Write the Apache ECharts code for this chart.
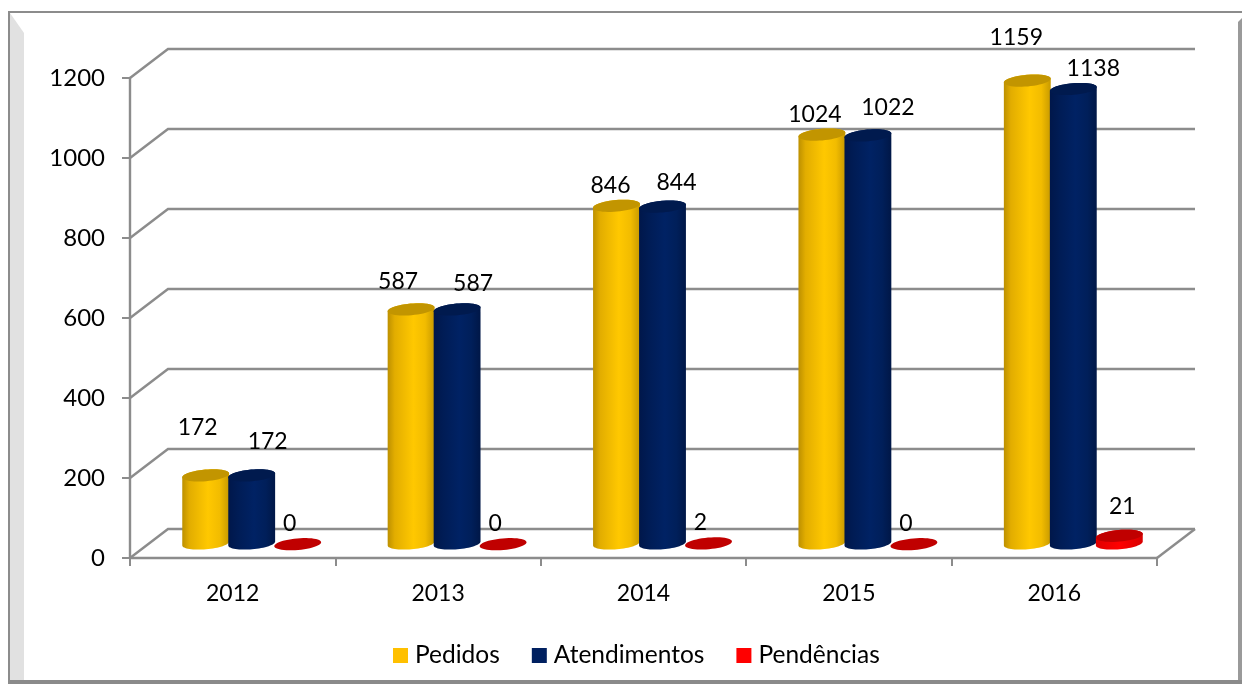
<!DOCTYPE html>
<html><head><meta charset="utf-8">
<style>html,body{margin:0;padding:0;background:#fff}#c{width:1242px;height:684px}</style>
<script src="https://cdn.jsdelivr.net/npm/echarts@6/dist/echarts.min.js"></script>
</head><body><div id="c"></div>
<script>
const categories = ['2012','2013','2014','2015','2016'];
const pedidos = [172,587,846,1024,1159];
const atendimentos = [172,587,844,1022,1138];
const pendencias = [0,0,2,0,21];
const yTicks = [0,200,400,600,800,1000,1200];
// manual data label nudges (dx, dy from top of each cylinder)
const pedidosLabelNudge = [[-8,-48],[-13,-28],[-6,-20],[-7,-20],[-11,-43]];
const atendimentosLabelNudge = [[16,-34],[16,-26],[14,-24],[20,-28],[20,-20]];
const pendenciasLabelNudge = [[-8,-21],[-8,-21],[-8,-21],[-8,-21],[3,-29]];

const FONT = 'Lato, "Open Sans", sans-serif';
const FS = 23;
const DEPTH_X = 38, DEPTH_Y = 29, LINE = '#8c8c8c';
const TILT = -5 * Math.PI / 180;

function arc(cx, cy, rx, ry, a0, a1, n) {
  const pts = [];
  for (let i = 0; i <= n; i++) {
    const a = a0 + (a1 - a0) * i / n;
    const px = rx * Math.cos(a), py = ry * Math.sin(a);
    pts.push([cx + px * Math.cos(TILT) - py * Math.sin(TILT), cy + px * Math.sin(TILT) + py * Math.cos(TILT)]);
  }
  return pts;
}
function grad(stops) {
  return {type:'linear',x:0,y:0,x2:1,y2:0,colorStops:stops.map(s=>({offset:s[0],color:s[1]}))};
}
function cylinderSeries(name, values, slot, nudges, sideStops, topColor, color) {
  return {
    type:'custom', name, z:5, itemStyle:{color},
    data: values.map((v,i)=>[i,v]),
    encode:{x:0,y:1},
    renderItem(params, api) {
      const idx = api.value(0), v = api.value(1);
      const band = api.size([1,0])[0];
      const barW = band * 0.229;
      const base = api.coord([idx,0]), top = api.coord([idx,v]);
      const cx = base[0] + DEPTH_X/2 + slot * band * 0.224;
      const by = base[1] - DEPTH_Y/2, ty = top[1] - DEPTH_Y/2 + 0.7;
      const rx = barW/2, ry = 5.8;
      const children = [];
      if (ty < by - 1) {
        const body = arc(cx,by,rx,ry,Math.PI,0,32).concat(arc(cx,ty,rx,ry,0,-Math.PI,32));
        children.push({type:'polygon',shape:{points:body},style:{fill:grad(sideStops)}});
      }
      children.push({type:'polygon',shape:{points:arc(cx,ty,rx,ry,0,Math.PI*2,48)},style:{fill:topColor}});
      const n = nudges[idx];
      children.push({type:'text',z2:20,style:{text:String(v),x:cx+n[0],y:ty+n[1],fill:'#000',
        font:FS+'px '+FONT,textAlign:'center',textVerticalAlign:'middle'}});
      return {type:'group',children};
    }
  };
}

const chart = echarts.init(document.getElementById('c'),null,{renderer:'canvas'});
chart.setOption({
  animation:false,
  backgroundColor:'#fff',
  grid:{left:130,right:85,top:78,bottom:126,containLabel:false},
  legend:{
    data:['Pedidos','Atendimentos','Pendências'],
    left:388, top:638, icon:'rect', itemWidth:15, itemHeight:15, itemGap:32,
    textStyle:{fontFamily:FONT,fontSize:24.5,color:'#000',padding:[0,0,0,2]}
  },
  xAxis:{
    type:'category', data:categories,
    axisLine:{lineStyle:{color:LINE,width:2.4}},
    axisTick:{show:true,length:8,lineStyle:{color:LINE,width:2}},
    axisLabel:{color:'#000',fontFamily:FONT,fontSize:FS,margin:24},
    splitLine:{show:false}
  },
  yAxis:{
    type:'value', min:0, max:1200, interval:200,
    axisLine:{show:true,lineStyle:{color:LINE,width:2.4}},
    axisTick:{show:true,length:8,lineStyle:{color:LINE,width:2}},
    axisLabel:{color:'#000',fontFamily:FONT,fontSize:24,margin:25,padding:[6,0,0,0],formatter:v=>String(v)},
    splitLine:{show:false}
  },
  graphic:[
    {type:'polygon',silent:true,z:-1,shape:{points:[[10,13],[24,33],[24,680],[10,680]]},style:{fill:'#e1e1e1'}},
    {type:'polygon',silent:true,z:-1,shape:{points:[[1238,22],[1242,18],[1242,680],[1238,680]]},style:{fill:'#9a9a9a'}},
    {type:'rect',silent:true,z:-1,shape:{x:8,y:680,width:1234,height:4},style:{fill:'#8a8a8a'}},
    {type:'rect',silent:true,z:-1,shape:{x:8,y:11,width:1234,height:2},style:{fill:'#8c8c8c'}},
    {type:'rect',silent:true,z:-1,shape:{x:8,y:11,width:2,height:673},style:{fill:'#8c8c8c'}}
  ],
  series:[
    {
      type:'custom', name:'walls', silent:true, z:1,
      data:yTicks.map(v=>[0,v]), encode:{x:0,y:1},
      renderItem(params, api){
        const v = api.value(1), y = api.coord([0,v])[1];
        const cs = params.coordSys, x0 = cs.x, x1 = cs.x + cs.width;
        const st = {stroke:LINE,lineWidth:2.4,fill:null};
        const kids = [{type:'polyline',shape:{points:[[x0,y],[x0+DEPTH_X,y-DEPTH_Y],[x1+DEPTH_X,y-DEPTH_Y]]},style:st}];
        if (v === 0) kids.push({type:'polyline',shape:{points:[[x1,y],[x1+DEPTH_X,y-DEPTH_Y]]},style:st});
        return {type:'group',children:kids};
      }
    },
    cylinderSeries('Pedidos',pedidos,-1,pedidosLabelNudge,
      [[0,'#bd9000'],[0.15,'#e2ad00'],[0.55,'#ffc800'],[0.8,'#f2bc00'],[1,'#c89a00']],'#c29500','#ffc000'),
    cylinderSeries('Atendimentos',atendimentos,0,atendimentosLabelNudge,
      [[0,'#00174a'],[0.2,'#001c55'],[0.55,'#002264'],[0.8,'#001f5a'],[1,'#001747']],'#001a4e','#002060'),
    cylinderSeries('Pendências',pendencias,1,pendenciasLabelNudge,
      [[0,'#e00000'],[0.5,'#ff0000'],[1,'#d80000']],'#c00000','#ff0000')
  ]
});
</script></body></html>
